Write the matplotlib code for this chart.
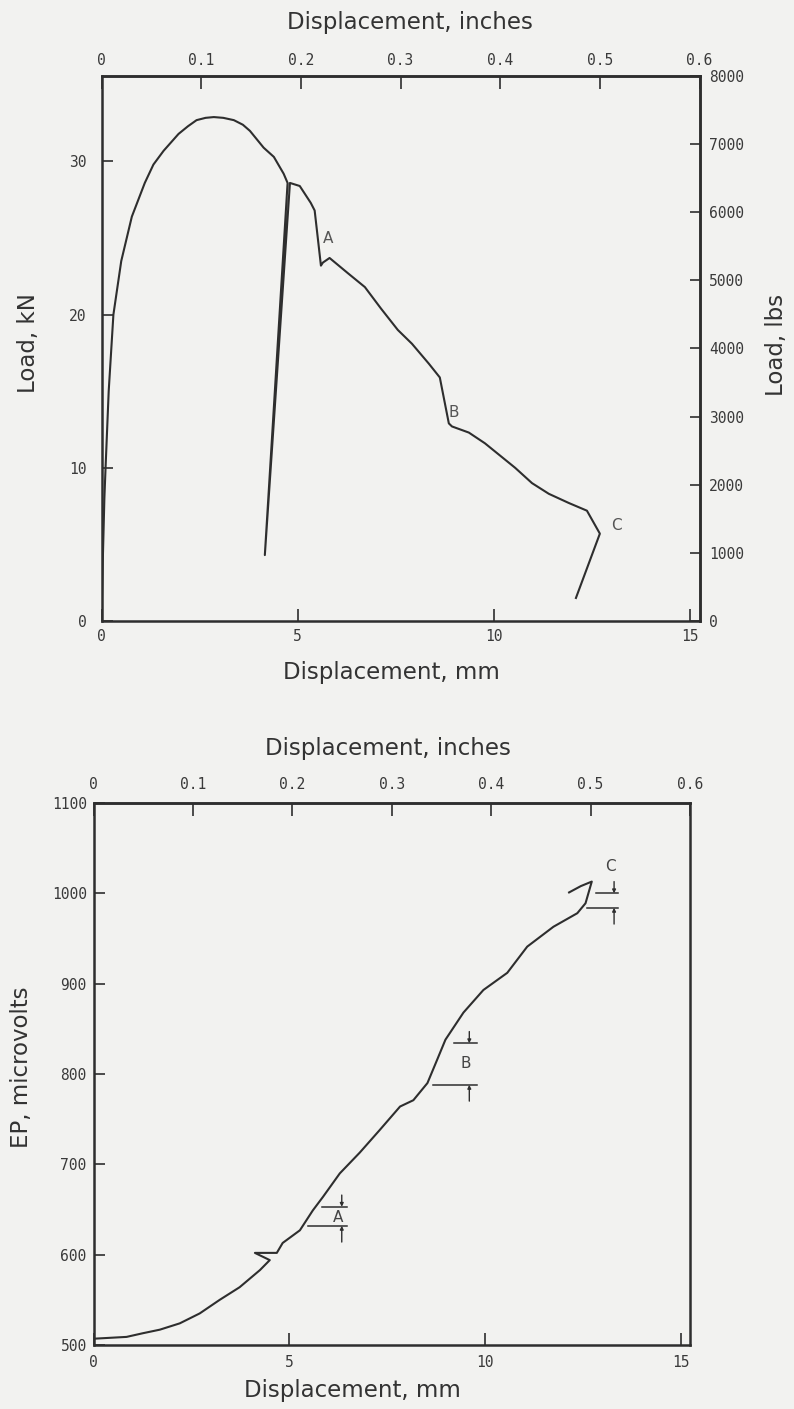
import matplotlib
matplotlib.use("Agg")
import matplotlib.pyplot as plt

MM_PER_IN = 25.4
KN_PER_LB = 0.00444822

# load-displacement record (mm, kN); includes the partial unload / reload near 4.2-4.8 mm
load_disp_mm = [0.0, 0.03, 0.07, 0.10, 0.18, 0.30, 0.50, 0.77, 1.10, 1.32, 1.58, 1.96,
                2.20, 2.42, 2.65, 2.86, 3.10, 3.37, 3.60, 3.78, 4.13, 4.39, 4.64, 4.74,
                4.16,
                4.80, 5.05, 5.33, 5.43, 5.59, 5.64, 5.81, 6.28, 6.71, 7.12,
                7.55, 7.91, 8.34, 8.62, 8.85, 8.93, 9.36, 9.77, 10.54, 10.97,
                11.40, 11.91, 12.37, 12.70, 12.09]
load_kn = [0.5, 4.0, 8.0, 10.0, 15.0, 20.0, 23.5, 26.4, 28.6, 29.8, 30.7, 31.8,
           32.3, 32.7, 32.85, 32.9, 32.85, 32.7, 32.4, 32.0, 30.9, 30.3, 29.2, 28.6,
           4.3,
           28.6, 28.4, 27.3, 26.8, 23.2, 23.4, 23.7, 22.7, 21.8, 20.4,
           19.0, 18.1, 16.8, 15.9, 12.9, 12.7, 12.3, 11.6, 10.0, 9.0,
           8.3, 7.7, 7.2, 5.7, 1.5]

load_tags = ["A", "B", "C"]
load_tag_x = [5.78, 8.98, 13.12]
load_tag_y = [25.0, 13.6, 6.2]

# electric potential vs displacement (mm, microvolts)
ep_disp_mm = [0.0, 0.84, 1.25, 1.69, 2.20, 2.71, 3.22, 3.73, 4.25, 4.50,
              4.12, 4.68, 4.83, 5.27, 5.60, 5.86, 6.29, 6.80, 7.31, 7.83,
              8.17, 8.53, 8.78, 8.99, 9.45, 9.96, 10.57, 11.08, 11.75, 12.36,
              12.57, 12.73, 12.45, 12.15]
ep_uv = [507, 509, 513, 517, 524, 535, 550, 564, 583, 594,
         602, 602, 613, 627, 649, 664, 690, 713, 738, 764,
         771, 790, 816, 838, 868, 893, 912, 941, 963, 978,
         989, 1013, 1008, 1001]

# EP jumps marked at the load drops A, B, C
bracket_tags = ["A", "B", "C"]
bracket_low = [632, 788, 984]
bracket_high = [653, 834, 1000]
bracket_low_start = [5.48, 8.67, 12.60]
bracket_high_start = [5.84, 9.20, 12.83]
bracket_end = [6.47, 9.80, 13.40]
bracket_arrow_x = [6.34, 9.60, 13.30]
bracket_tag_y = [641, 812, 1030]

mm_ticks = [0, 5, 10, 15]
inch_ticks = [0, 0.1, 0.2, 0.3, 0.4, 0.5, 0.6]
inch_labels = ["0", "0.1", "0.2", "0.3", "0.4", "0.5", "0.6"]
kn_ticks = [0, 10, 20, 30]
lb_ticks = list(range(0, 8001, 1000))
ep_ticks = [500, 600, 700, 800, 900, 1000, 1100]

BG = "#f2f2f0"
INK = "#2e2e2e"
LABEL_FONT = {"family": "DejaVu Sans", "size": 16.5, "color": "#333333"}
TICK_FONT = "DejaVu Sans Mono"
W, H = 794, 1409

plt.rcParams["axes.edgecolor"] = INK
plt.rcParams["axes.linewidth"] = 1.8
plt.rcParams["lines.solid_joinstyle"] = "round"


def to_in(mm):
    return mm / MM_PER_IN


def to_mm(inch):
    return inch * MM_PER_IN


def style_ticks(axis, which, pad, length):
    axis.tick_params(axis=which, direction="in", length=length, width=1.2,
                     color=INK, pad=pad, labelsize=10.5, labelcolor="#3a3a3a")
    labels = axis.get_xticklabels() if which == "x" else axis.get_yticklabels()
    for lab in labels:
        lab.set_family(TICK_FONT)


def label(fig, px, py, text, rotation=0):
    # place an axis caption by its centre in pixel coordinates
    fig.text(px / W, 1 - py / H, text, ha="center", va="center",
             rotation=rotation, **LABEL_FONT)


fig = plt.figure(figsize=(W / 100, H / 100), dpi=100, facecolor=BG)

# ---- load vs displacement ----
ax1 = fig.add_axes([0.128, 0.5593, 0.753, 0.3868], facecolor=BG)
ax1.plot(load_disp_mm, load_kn, color=INK, lw=1.5)
for tag, x, y in zip(load_tags, load_tag_x, load_tag_y):
    ax1.text(x, y, tag, fontsize=11, color="#555555", ha="center", va="center")
ax1.set_xlim(0, 0.6 * MM_PER_IN)
ax1.set_ylim(0, 8000 * KN_PER_LB)
ax1.set_xticks(mm_ticks)
ax1.set_yticks(kn_ticks)
style_ticks(ax1, "x", 6, 9)
style_ticks(ax1, "y", 11, 8)

top1 = ax1.secondary_xaxis("top", functions=(to_in, to_mm))
top1.set_xticks(inch_ticks, inch_labels)
style_ticks(top1, "x", 6, 9)

right1 = ax1.secondary_yaxis("right", functions=(lambda k: k / KN_PER_LB,
                                                 lambda lb: lb * KN_PER_LB))
right1.set_yticks(lb_ticks)
style_ticks(right1, "y", 7, 7)

label(fig, 410, 23, "Displacement, inches")
label(fig, 391, 672, "Displacement, mm")
label(fig, 28, 343, "Load, kN", rotation=90)
label(fig, 777, 345, "Load, lbs", rotation=90)

# ---- EP vs displacement ----
ax2 = fig.add_axes([0.118, 0.0454, 0.751, 0.3847], facecolor=BG)
ax2.plot(ep_disp_mm, ep_uv, color=INK, lw=1.5)
for i, tag in enumerate(bracket_tags):
    ax2.plot([bracket_high_start[i], bracket_end[i]],
             [bracket_high[i], bracket_high[i]], color=INK, lw=1.1)
    ax2.plot([bracket_low_start[i], bracket_end[i]],
             [bracket_low[i], bracket_low[i]], color=INK, lw=1.1)
    ax2.annotate("", xy=(bracket_arrow_x[i], bracket_high[i]),
                 xytext=(bracket_arrow_x[i], bracket_high[i] + 13),
                 arrowprops=dict(arrowstyle="-|>", lw=1.0, color=INK,
                                 mutation_scale=5, shrinkA=0, shrinkB=0))
    ax2.annotate("", xy=(bracket_arrow_x[i], bracket_low[i]),
                 xytext=(bracket_arrow_x[i], bracket_low[i] - 18),
                 arrowprops=dict(arrowstyle="-|>", lw=1.0, color=INK,
                                 mutation_scale=5, shrinkA=0, shrinkB=0))
    ax2.text(bracket_arrow_x[i] - 0.1, bracket_tag_y[i], tag, fontsize=11,
             color="#444444", ha="center", va="center")
ax2.set_xlim(0, 0.6 * MM_PER_IN)
ax2.set_ylim(500, 1100)
ax2.set_xticks(mm_ticks)
ax2.set_yticks(ep_ticks)
style_ticks(ax2, "x", 7, 9)
style_ticks(ax2, "y", 5, 8)

top2 = ax2.secondary_xaxis("top", functions=(to_in, to_mm))
top2.set_xticks(inch_ticks, inch_labels)
style_ticks(top2, "x", 8, 9)

label(fig, 388, 748, "Displacement, inches")
label(fig, 352, 1391, "Displacement, mm")
label(fig, 22, 1067, "EP, microvolts", rotation=90)

fig.savefig("out.png", dpi=100, facecolor=BG)
plt.close(fig)
